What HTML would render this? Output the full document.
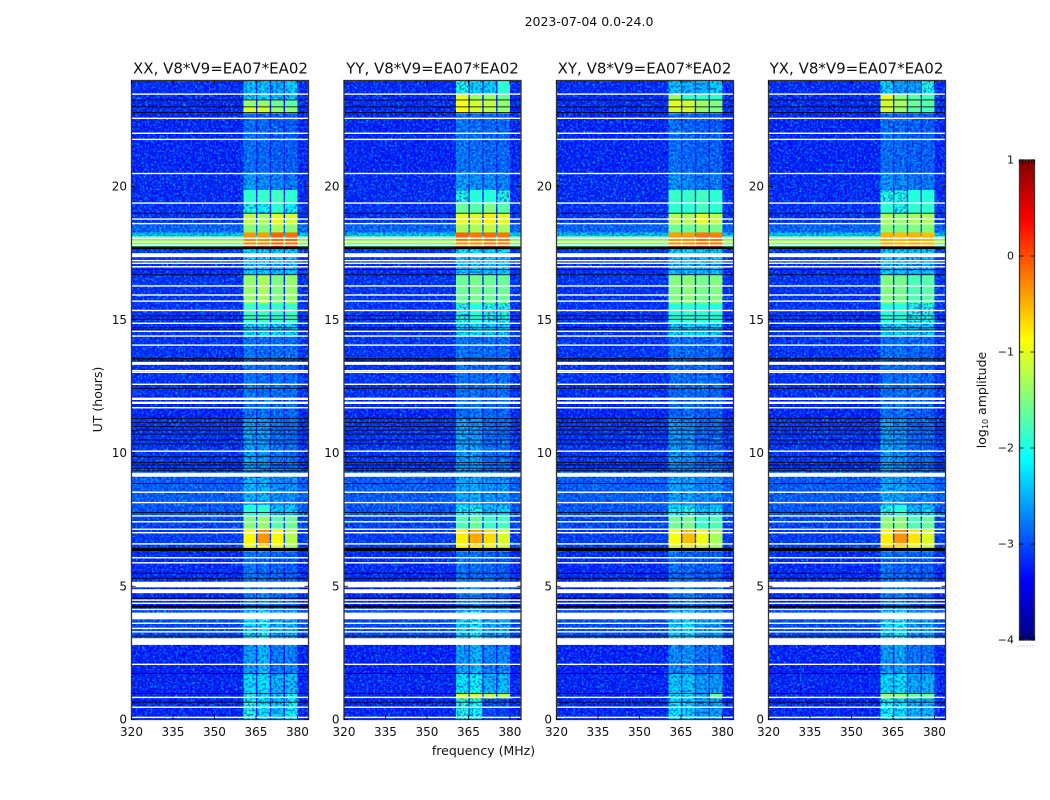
<!DOCTYPE html>
<html lang="en">
<head>
<meta charset="utf-8">
<title>2023-07-04 0.0-24.0</title>
<style>
html,body{margin:0;padding:0;background:#fff;width:1050px;height:800px;overflow:hidden}
svg{display:block}
text{font-family:"DejaVu Sans","Liberation Sans",sans-serif;fill:#111}
.title{font-size:15px}
.lab{font-size:12.5px}
.tick{font-size:12px}
</style>
</head>
<body>
<svg id="chart" xmlns="http://www.w3.org/2000/svg" width="1050" height="800" viewBox="0 0 1050 800">
  <defs>
    <filter id="light-noise" x="0" y="0" width="1" height="1" color-interpolation-filters="sRGB">
      <feTurbulence type="fractalNoise" baseFrequency="0.42" numOctaves="2" seed="4"/>
      <feColorMatrix type="matrix" values="0 0 0 0 0  0 0 0 0 0.3  0 0 0 0 0.1  5 0 0 0 -2.3"/>
    </filter>
    <filter id="fleck-noise" x="0" y="0" width="1" height="1" color-interpolation-filters="sRGB">
      <feTurbulence type="fractalNoise" baseFrequency="0.45" numOctaves="2" seed="23"/>
      <feColorMatrix type="matrix" values="0 0 0 0 0  0 0 0 0 0.5  0 0 0 0 0.2  8 0 0 0 -4.9"/>
    </filter>
    <filter id="dark-noise" x="0" y="0" width="1" height="1" color-interpolation-filters="sRGB">
      <feTurbulence type="fractalNoise" baseFrequency="0.42" numOctaves="2" seed="11"/>
      <feColorMatrix type="matrix" values="0 0 0 0 1  0 0 0 0 0.5  0 0 0 0 0.86  5 0 0 0 -2.3"/>
    </filter>
  </defs>
  <text x="589" y="26" text-anchor="middle" style="font-size:12.5px">2023-07-04 0.0-24.0</text>
  <text class="title" x="220.5" y="73.5" text-anchor="middle">XX, V8*V9=EA07*EA02</text>
  <text class="title" x="432.5" y="73.5" text-anchor="middle">YY, V8*V9=EA07*EA02</text>
  <text class="title" x="644.5" y="73.5" text-anchor="middle">XY, V8*V9=EA07*EA02</text>
  <text class="title" x="856.5" y="73.5" text-anchor="middle">YX, V8*V9=EA07*EA02</text>
  <text class="lab" x="483.5" y="755" text-anchor="middle">frequency (MHz)</text>
  <text class="lab" transform="translate(102,399.5) rotate(-90)" text-anchor="middle">UT (hours)</text>
  <text class="lab" transform="translate(986,400) rotate(-90)" text-anchor="middle">log<tspan font-size="8" dy="2">10</tspan><tspan dy="-2"> amplitude</tspan></text>
  <g id="panels"></g>
  <g id="colorbar"></g>
</svg>
<script>
// ---- data ----
const panelNames = ['xx', 'yy', 'xy', 'yx'];
const xTicks = [320, 335, 350, 365, 380];
const yTicks = [0, 5, 10, 15, 20];
const cbarTicks = [1, 0, -1, -2, -3, -4];
const cbarLabels = ['1', '0', '\u22121', '\u22122', '\u22123', '\u22124'];
const subbands = [[360.5, 365], [365.5, 370], [370.5, 375], [375.5, 380]];
// UT hour edges of the 38 time segments
const utEdges = [0, 0.8, 1.0, 1.74, 2.8, 4.11, 5.24, 6.32, 6.55, 7.14, 7.67, 8.05, 9.10, 9.36, 11.31, 12.18, 13.49, 14.39, 14.88, 15.63, 16.68, 16.87, 17.5, 17.71, 17.88, 17.99, 18.14, 18.29, 18.59, 19.0, 19.38, 19.87, 20.51, 22.57, 22.76, 22.98, 23.25, 23.47, 23.98];
// log10 amplitude off-band, one per segment
const bgLevels = [
-3.28,-3.28,-3.28,-3.3, -3.05,-3.28,-3.25,-3.15, -3.15,-3.1,-3.0,-2.95, -2.95,-3.2,-3.28,-3.2,
-3.2,-3.2,-3.2,-3.2, -3.25,-3.2,-3.15,-1.75, -1.2,-1.75,-2.4,-2.9, -3.2,-3.2,-3.25,-3.25,
-3.28,-3.28,-3.25,-3.25, -3.25,-3.25
];
// log10 amplitude in each of the four sub-bands, one row per segment
const xxBands = [
[-2.0,-2.2,-2.4,-2.1],[-2.0,-2.2,-2.4,-2.1],[-2.25,-2.2,-2.5,-2.4],[-2.6,-2.45,-2.8,-2.75],
[-2.25,-2.1,-2.45,-2.5],[-2.8,-2.7,-2.9,-2.9],[-2.8,-2.85,-2.9,-2.95],[-0.95,-0.9,-1.0,-1.3],
[-0.85,-0.35,-0.85,-1.25],[-1.5,-1.4,-1.7,-1.6],[-1.95,-1.9,-2.4,-2.3],[-2.45,-2.45,-2.65,-2.65],
[-2.8,-2.8,-2.85,-2.85],[-2.55,-2.6,-2.85,-2.85],[-2.85,-2.8,-2.9,-2.9],[-2.8,-2.85,-2.85,-2.85],
[-2.8,-2.85,-2.85,-2.85],[-2.25,-2.2,-2.25,-2.25],[-1.85,-1.85,-1.9,-1.85],[-1.4,-1.3,-1.5,-1.4],
[-2.3,-2.3,-2.4,-2.3],[-2.4,-2.4,-2.45,-2.45],[-2.3,-2.3,-2.3,-2.3],[-0.25,-0.2,-0.05,-0.1],
[-0.25,-0.25,-0.1,-0.1],[-0.3,-0.3,-0.1,-0.1],[-0.35,-0.4,-0.1,-0.15],[-1.45,-1.5,-1.3,-1.45],
[-1.2,-1.3,-1.0,-1.1],[-2.0,-2.1,-1.9,-2.1],[-1.9,-1.85,-1.8,-1.9],[-2.6,-2.7,-2.75,-2.8],
[-2.85,-2.9,-2.95,-2.95],[-2.85,-2.9,-2.95,-2.95],[-1.1,-1.1,-1.4,-1.45],[-1.4,-1.4,-1.6,-1.7],
[-2.3,-2.3,-2.5,-2.4],[-2.4,-2.4,-2.5,-2.3]
];
const yyBands = [
[-2.0,-2.1,-3.1,-3.1],[-1.1,-1.1,-1.2,-1.25],[-2.2,-2.1,-2.5,-2.4],[-2.6,-2.45,-2.75,-2.7],
[-2.3,-2.15,-2.5,-2.5],[-2.8,-2.7,-2.9,-2.9],[-2.8,-2.85,-2.9,-2.95],[-0.85,-0.85,-0.95,-1.1],
[-0.8,-0.45,-0.7,-1.05],[-1.75,-1.65,-1.85,-1.8],[-2.1,-2.0,-2.4,-2.3],[-2.5,-2.5,-2.65,-2.65],
[-2.8,-2.8,-2.85,-2.85],[-2.55,-2.6,-2.85,-2.85],[-2.85,-2.8,-2.9,-2.9],[-2.8,-2.85,-2.85,-2.85],
[-2.8,-2.85,-2.85,-2.85],[-2.25,-2.2,-2.3,-2.3],[-2.0,-1.95,-2.0,-2.0],[-1.6,-1.55,-1.6,-1.6],
[-2.3,-2.3,-2.4,-2.3],[-2.4,-2.4,-2.4,-2.4],[-2.2,-2.2,-2.3,-2.2],[-0.3,-0.25,-0.15,-0.2],
[-0.3,-0.3,-0.2,-0.2],[-0.15,-0.2,-0.15,-0.2],[-0.1,-0.2,-0.15,-0.2],[-1.3,-1.3,-1.2,-1.3],
[-1.0,-1.05,-0.8,-1.0],[-1.6,-1.7,-1.5,-1.7],[-2.0,-1.95,-1.95,-2.0],[-2.6,-2.65,-2.7,-2.75],
[-2.8,-2.85,-2.9,-2.9],[-2.8,-2.85,-2.9,-2.9],[-0.9,-1.1,-1.2,-1.4],[-0.9,-1.1,-1.2,-1.4],
[-1.0,-1.4,-1.4,-1.6],[-2.0,-2.3,-2.3,-1.9]
];
const xyBands = [
[-2.2,-2.3,-2.6,-2.6],[-2.2,-2.3,-2.5,-1.6],[-2.35,-2.35,-2.6,-2.6],[-2.7,-2.65,-2.85,-2.85],
[-2.35,-2.2,-2.6,-2.6],[-2.85,-2.75,-2.95,-2.95],[-2.85,-2.9,-2.95,-2.95],[-1.05,-1.0,-1.1,-1.4],
[-0.9,-0.55,-0.95,-1.3],[-1.6,-1.55,-1.85,-1.75],[-2.1,-2.0,-2.4,-2.3],[-2.55,-2.55,-2.7,-2.7],
[-2.85,-2.85,-2.9,-2.9],[-2.6,-2.65,-2.9,-2.9],[-2.9,-2.85,-2.95,-2.95],[-2.85,-2.85,-2.85,-2.9],
[-2.85,-2.85,-2.9,-2.9],[-2.3,-2.25,-2.3,-2.3],[-1.95,-1.9,-1.95,-1.95],[-1.5,-1.45,-1.55,-1.5],
[-2.35,-2.3,-2.4,-2.35],[-2.45,-2.4,-2.45,-2.45],[-2.3,-2.25,-2.3,-2.25],[-0.3,-0.25,-0.15,-0.2],
[-0.3,-0.3,-0.15,-0.15],[-0.35,-0.3,-0.15,-0.2],[-0.4,-0.4,-0.2,-0.25],[-1.6,-1.6,-1.45,-1.55],
[-1.25,-1.25,-1.0,-1.2],[-1.9,-1.9,-1.8,-1.9],[-1.85,-1.85,-1.8,-1.9],[-2.65,-2.7,-2.8,-2.8],
[-2.85,-2.9,-2.95,-2.95],[-2.85,-2.9,-2.95,-2.95],[-1.1,-1.1,-1.4,-1.5],[-1.0,-1.1,-1.35,-1.5],
[-1.4,-1.9,-1.9,-1.9],[-2.4,-2.5,-2.5,-2.3]
];
const yxBands = [
[-2.1,-2.2,-2.5,-2.5],[-1.4,-1.4,-1.6,-1.6],[-2.25,-2.2,-2.55,-2.5],[-2.6,-2.55,-2.8,-2.85],
[-2.25,-2.15,-2.6,-2.6],[-2.8,-2.75,-2.95,-2.95],[-2.8,-2.9,-2.95,-2.95],[-0.7,-0.8,-0.95,-1.15],
[-0.8,-0.35,-0.75,-1.05],[-1.45,-1.45,-1.75,-1.65],[-2.0,-1.95,-2.4,-2.3],[-2.5,-2.55,-2.7,-2.7],
[-2.8,-2.85,-2.9,-2.9],[-2.55,-2.65,-2.9,-2.9],[-2.85,-2.85,-2.95,-2.95],[-2.85,-2.85,-2.85,-2.9],
[-2.85,-2.85,-2.9,-2.9],[-2.3,-2.25,-2.35,-2.35],[-1.95,-1.95,-2.0,-2.0],[-1.5,-1.55,-1.75,-1.7],
[-2.3,-2.35,-2.45,-2.4],[-2.4,-2.45,-2.5,-2.5],[-2.3,-2.3,-2.35,-2.3],[-0.45,-0.45,-0.4,-0.45],
[-0.45,-0.5,-0.45,-0.5],[-0.45,-0.5,-0.45,-0.5],[-0.5,-0.55,-0.5,-0.55],[-1.5,-1.55,-1.5,-1.5],
[-1.3,-1.4,-1.3,-1.3],[-1.9,-2.0,-1.9,-1.9],[-2.0,-2.0,-1.95,-1.95],[-2.65,-2.7,-2.8,-2.8],
[-2.85,-2.9,-2.95,-2.95],[-2.85,-2.9,-2.95,-2.95],[-1.1,-1.4,-1.7,-1.8],[-1.1,-1.3,-1.6,-1.7],
[-1.0,-1.5,-1.7,-1.8],[-2.3,-2.6,-2.6,-2.0]
];
const panelBands = [xxBands, yyBands, xyBands, yxBands];
// flagged (blank) integrations, UT hours
const whiteRows = [23.47, 22.56, 22.0, 21.77, 20.49, 19.38, 18.78, 18.61, 18.06, 17.93, 17.80, 17.22, 17.12, 16.99, 16.27, 15.93, 15.70, 15.35, 14.87, 14.57, 14.39, 14.05, 13.09, 13.03, 12.58, 11.70, 10.07, 8.53, 8.14, 7.64, 7.42, 7.14, 7.01, 6.59, 6.07, 5.88, 4.48, 4.36, 4.13, 3.61, 3.42, 3.29, 2.07, 0.83, 0.46, 0.08];
const whiteBlocks = [[17.35, 17.5], [13.31, 13.42], [11.99, 12.08], [11.84, 11.93], [9.11, 9.26], [4.96, 5.17], [4.74, 4.89], [3.76, 4.01], [2.80, 3.05]];
const blackRows = [23.25, 22.99, 22.78, 19.0, 16.89, 16.69, 15.15, 15.02, 14.70, 14.62, 13.55, 13.49, 12.43, 11.29, 11.14, 10.99, 10.86, 10.71, 10.49, 10.34, 9.86, 9.64, 9.55, 9.43, 9.33, 8.86, 7.77, 5.49, 5.30, 4.55, 3.13, 1.73, 0.98, 0.65];
const blackBlocks = [[17.65, 17.75], [6.32, 6.44], [4.20, 4.28]];

// ---- layout and axis functions ----
const NS = 'http://www.w3.org/2000/svg';
const panelLefts = [131.5, 344, 556.5, 768.5];
const panelWidth = 177, plotTop = 80.5, plotBottom = 719.5;
const xMin = 320, xMax = 384, yMin = 0, yMax = 23.98;
function xPx(panel, mhz) { return panelLefts[panel] + (mhz - xMin) / (xMax - xMin) * panelWidth; }
function yPx(ut) { return plotBottom - (ut - yMin) / (yMax - yMin) * (plotBottom - plotTop); }
const cbarTop = 160, cbarBottom = 640, cbarLeft = 1019.5, cbarWidth = 15;
const vMin = -4, vMax = 1;
function cbarY(v) { return cbarBottom - (v - vMin) / (vMax - vMin) * (cbarBottom - cbarTop); }
function clip(v) { return Math.max(0, Math.min(1, v)); }
function jet(level) {
  const v = clip((level - vMin) / (vMax - vMin));
  const r = clip(1.5 - Math.abs(4 * v - 3));
  const g = clip(1.5 - Math.abs(4 * v - 2));
  const b = clip(1.5 - Math.abs(4 * v - 1));
  return 'rgb(' + Math.round(r * 255) + ',' + Math.round(g * 255) + ',' + Math.round(b * 255) + ')';
}
function svgEl(tag, attrs) {
  const el = document.createElementNS(NS, tag);
  for (const k in attrs) el.setAttribute(k, attrs[k]);
  return el;
}
const BRIGHT = -1.95;
const panelsRoot = document.getElementById('panels');

panelNames.forEach(function (name, p) {
  const group = svgEl('g', { style: 'isolation:isolate' });
  
  
  panelsRoot.appendChild(group);
  const lowLayer = svgEl('g', {});
  
  
  group.appendChild(lowLayer);
  const highLayer = svgEl('g', {});
  
  

  const x0 = xPx(p, xMin), x1 = xPx(p, xMax);
  for (let s = 0; s < utEdges.length - 1; s++) {
    const yTop = yPx(utEdges[s + 1]), yBot = yPx(utEdges[s]);
    const bgCell = svgEl('rect', { x: x0, y: yTop, width: x1 - x0, height: yBot - yTop + 0.3, fill: jet(bgLevels[s]) });
    
    
    (bgLevels[s] >= BRIGHT ? highLayer : lowLayer).appendChild(bgCell);
    subbands.forEach(function (band, b) {
      const level = panelBands[p][s][b];
      const cell = svgEl('rect', { x: xPx(p, band[0]), y: yTop, width: xPx(p, band[1]) - xPx(p, band[0]), height: yBot - yTop + 0.3, fill: jet(level) });
      
      
      (level >= BRIGHT || bgLevels[s] >= BRIGHT ? highLayer : lowLayer).appendChild(cell);
    });
  }
  const lightNoise = svgEl('rect', { x: x0, y: plotTop, width: x1 - x0, height: plotBottom - plotTop, filter: 'url(#light-noise)', style: 'mix-blend-mode:screen' });
  
  
  group.appendChild(lightNoise);
  const fleckNoise = svgEl('rect', { x: x0, y: plotTop, width: x1 - x0, height: plotBottom - plotTop, filter: 'url(#fleck-noise)', style: 'mix-blend-mode:screen' });
  
  
  group.appendChild(fleckNoise);
  const darkNoise = svgEl('rect', { x: x0, y: plotTop, width: x1 - x0, height: plotBottom - plotTop, filter: 'url(#dark-noise)', style: 'mix-blend-mode:multiply' });
  
  
  group.appendChild(darkNoise);
  group.appendChild(highLayer);

  whiteRows.forEach(function (ut) {
    const row = svgEl('rect', { x: x0, y: yPx(ut) - 0.7, width: x1 - x0, height: 1.4, fill: '#fff' });
    
    
    group.appendChild(row);
  });
  whiteBlocks.forEach(function (span) {
    const row = svgEl('rect', { x: x0, y: yPx(span[1]), width: x1 - x0, height: yPx(span[0]) - yPx(span[1]), fill: '#fff' });
    
    
    group.appendChild(row);
  });
  blackRows.forEach(function (ut) {
    const row = svgEl('rect', { x: x0, y: yPx(ut) - 0.4, width: x1 - x0, height: 0.8, fill: '#000' });
    
    
    group.appendChild(row);
  });
  blackBlocks.forEach(function (span) {
    const row = svgEl('rect', { x: x0, y: yPx(span[1]), width: x1 - x0, height: yPx(span[0]) - yPx(span[1]), fill: '#000' });
    
    
    group.appendChild(row);
  });

  const frame = svgEl('rect', { x: x0, y: plotTop, width: x1 - x0, height: plotBottom - plotTop, fill: 'none', stroke: '#333', 'stroke-width': 1.3 });
  
  
  group.appendChild(frame);

  xTicks.forEach(function (t) {
    const x = xPx(p, t);
    const bottomTick = svgEl('line', { x1: x, x2: x, y1: plotBottom, y2: plotBottom - 4, stroke: '#000', 'stroke-width': 0.8 });
    
    
    group.appendChild(bottomTick);
    const topTick = svgEl('line', { x1: x, x2: x, y1: plotTop, y2: plotTop + 4, stroke: '#000', 'stroke-width': 0.8 });
    
    
    group.appendChild(topTick);
    const label = svgEl('text', { x: x, y: 736, 'text-anchor': 'middle', class: 'tick' });
    
    
    label.textContent = String(t);
    group.appendChild(label);
  });
  yTicks.forEach(function (t) {
    const y = yPx(t);
    const leftTick = svgEl('line', { x1: x0, x2: x0 + 4, y1: y, y2: y, stroke: '#000', 'stroke-width': 0.8 });
    
    
    group.appendChild(leftTick);
    const rightTick = svgEl('line', { x1: x1, x2: x1 - 4, y1: y, y2: y, stroke: '#000', 'stroke-width': 0.8 });
    
    
    group.appendChild(rightTick);
    const label = svgEl('text', { x: x0 - 4.5, y: y + 4, 'text-anchor': 'end', class: 'tick' });
    
    
    label.textContent = String(t);
    group.appendChild(label);
  });
});

// ---- colorbar ----
const cbarRoot = document.getElementById('colorbar');
for (let py = cbarTop; py < cbarBottom; py += 2) {
  const level = vMax - (py + 1 - cbarTop) / (cbarBottom - cbarTop) * (vMax - vMin);
  const step = svgEl('rect', { x: cbarLeft, y: py, width: cbarWidth, height: 2.2, fill: jet(level) });
  
  
  cbarRoot.appendChild(step);
}
const cbarFrame = svgEl('rect', { x: cbarLeft, y: cbarTop, width: cbarWidth, height: cbarBottom - cbarTop, fill: 'none', stroke: '#333', 'stroke-width': 1.3 });


cbarRoot.appendChild(cbarFrame);
cbarTicks.forEach(function (t, i) {
  const y = cbarY(t);
  const left = svgEl('line', { x1: cbarLeft, x2: cbarLeft + 4, y1: y, y2: y, stroke: '#000', 'stroke-width': 0.8 });
  
  
  cbarRoot.appendChild(left);
  const right = svgEl('line', { x1: cbarLeft + cbarWidth, x2: cbarLeft + cbarWidth - 4, y1: y, y2: y, stroke: '#000', 'stroke-width': 0.8 });
  
  
  cbarRoot.appendChild(right);
  const label = svgEl('text', { x: cbarLeft - 5.5, y: y + 3.5, 'text-anchor': 'end', class: 'tick', style: 'font-size:11px' });
  
  
  label.textContent = cbarLabels[i];
  cbarRoot.appendChild(label);
});
const cbarDots = svgEl('line', { x1: cbarLeft - 2, x2: cbarLeft + cbarWidth, y1: 646, y2: 646, stroke: '#999', 'stroke-width': 1, 'stroke-dasharray': '1 2' });


cbarRoot.appendChild(cbarDots);
[0, 1, 2, 3, 4, 5].forEach(function (i) {
  const x = cbarLeft + cbarWidth * i / 5;
  const topMark = svgEl('line', { x1: x, x2: x, y1: cbarTop, y2: cbarTop + 4, stroke: '#000', 'stroke-width': 0.7 });
  
  
  cbarRoot.appendChild(topMark);
  const botMark = svgEl('line', { x1: x, x2: x, y1: cbarBottom, y2: cbarBottom - 4, stroke: '#000', 'stroke-width': 0.7 });
  
  
  cbarRoot.appendChild(botMark);
});
</script>
</body>
</html>
